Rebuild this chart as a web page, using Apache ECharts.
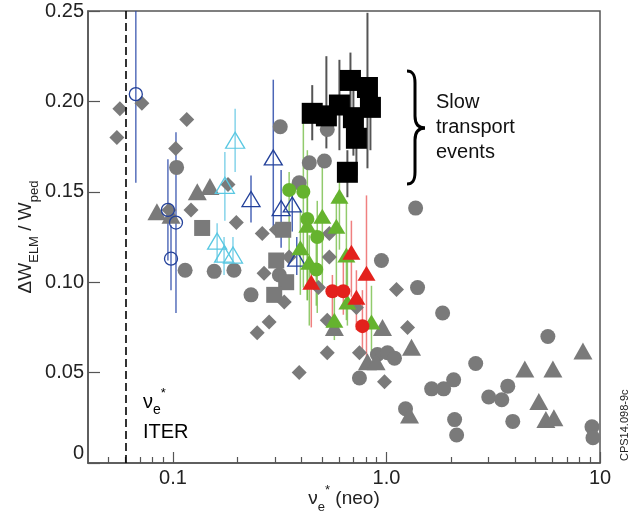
<!DOCTYPE html>
<html><head><meta charset="utf-8">
<script src="https://cdn.jsdelivr.net/npm/echarts@6/dist/echarts.min.js"></script>
<style>html,body{margin:0;padding:0;background:#fff}#c{width:641px;height:518px}</style>
</head><body><div id="c"></div>
<script>
// ---- axis ticks ----
const X_MAJOR = [0.1, 1, 10];
const X_MAJOR_LABELS = ['0.1', '1.0', '10'];
const X_MINOR = [0.05,0.06,0.07,0.08,0.09,0.2,0.3,0.4,0.5,0.6,0.7,0.8,0.9,2,3,4,5,6,7,8,9];
const Y_TICKS = [0, 0.05, 0.10, 0.15, 0.20, 0.25];
const Y_TICK_LABELS = ['0', '0.05', '0.10', '0.15', '0.20', '0.25'];
const NU_ITER = 0.06;

// ---- data: [nu*, dW/W] ----
const grayDiamonds = [[0.0564,0.196],[0.0546,0.180],[0.0715,0.199],[0.116,0.190],[0.103,0.174],[0.1215,0.140],[0.0958,0.140],[0.181,0.154],[0.198,0.133],[0.262,0.127],[0.305,0.129],[0.267,0.105],[0.350,0.114],[0.332,0.089],[0.282,0.078],[0.248,0.072],[0.390,0.050],[0.540,0.114],[0.540,0.127],[0.528,0.061],[0.747,0.061],[0.979,0.045],[1.114,0.096],[1.255,0.075],[0.480,0.097],[0.723,0.086],[0.528,0.079]];
const grayCircles = [[0.318,0.186],[0.104,0.1635],[0.114,0.1066],[0.156,0.106],[0.193,0.1066],[0.232,0.093],[0.315,0.104],[0.528,0.1845],[0.435,0.166],[0.512,0.167],[0.390,0.155],[1.369,0.141],[0.947,0.112],[1.398,0.097],[1.832,0.083],[5.70,0.070],[0.747,0.047],[0.907,0.060],[1.011,0.061],[1.09,0.058],[2.617,0.055],[1.627,0.041],[1.852,0.041],[2.063,0.046],[3.012,0.0365],[3.467,0.035],[3.699,0.0425],[1.228,0.030],[2.085,0.024],[2.131,0.0155],[3.904,0.023],[9.17,0.020],[9.27,0.014]];
const grayTriangles = [[0.0841,0.139],[0.0979,0.137],[0.130,0.150],[0.149,0.153],[0.570,0.075],[0.958,0.075],[1.31,0.064],[0.8145,0.056],[0.894,0.056],[1.282,0.0265],[4.445,0.052],[6.017,0.052],[8.32,0.062],[5.171,0.034],[5.578,0.024],[6.082,0.025]];
const graySquares = [[0.137,0.130],[0.3285,0.129],[0.3045,0.112],[0.339,0.100],[0.298,0.093]];

// ---- data with error bars: [nu*, dW/W, low, high] ----
const blueCircles = [[0.067,0.204,0.155,0.25],[0.0947,0.140,0.112,0.168],[0.1033,0.133,0.083,0.183],[0.0979,0.113,0.0956,0.1315]];
const blueTriangles = [[0.295,0.169,0.128,0.212],[0.232,0.146,0.133,0.159],[0.321,0.141,0.119,0.162],[0.362,0.143,0.128,0.150],[0.380,0.113,0.104,0.125]];
const cyanTriangles = [[0.1955,0.1785,0.161,0.196],[0.175,0.1536,0.134,0.172],[0.161,0.1227,0.111,0.1326],[0.1735,0.1155,0.104,0.125],[0.191,0.115,0.103,0.125]];
const greenCircles = [[0.350,0.151,0.115,0.161],[0.408,0.150,0.097,0.188],[0.426,0.135,0.090,0.173],[0.474,0.125,0.083,0.145],[0.469,0.107,0.087,0.129]];
const greenTriangles = [[0.602,0.1475,0.118,0.156],[0.5006,0.1365,0.098,0.171],[0.426,0.1315,0.090,0.151],[0.5825,0.131,0.096,0.148],[0.395,0.119,0.093,0.140],[0.435,0.111,0.076,0.126],[0.649,0.115,0.079,0.145],[0.656,0.089,0.076,0.112],[0.570,0.079,0.068,0.098],[0.8505,0.078,0.059,0.098]];
const redCircles = [[0.558,0.095,0.079,0.104],[0.628,0.095,0.082,0.112],[0.7715,0.0757,0.062,0.0956]];
const redTriangles = [[0.4445,0.100,0.075,0.107],[0.685,0.1166,0.092,0.134],[0.806,0.105,0.058,0.148],[0.723,0.0917,0.0735,0.1066]];
const blackSquares = [[0.449,0.1934,0.1785,0.209],[0.523,0.192,0.174,0.225],[0.602,0.198,0.173,0.223],[0.678,0.2116,0.187,0.227],[0.8145,0.2077,0.163,0.249],[0.841,0.1967,0.173,0.206],[0.723,0.1796,0.159,0.195],[0.656,0.1608,0.147,0.173],[0.70,0.191,0.170,0.21]];

const FONT = "'Liberation Sans', Arial, Helvetica, sans-serif";
const GRAY = '#7a7a7a', BLUE = '#23419a', CYAN = '#5ac8e2', GREEN = '#65b32e', RED = '#e3211c';
const AX = '#555';

function pickLabel(v, vals, labels) {
  let best = 0, bd = Infinity;
  vals.forEach((t, i) => { const d = Math.abs(Math.log(t) - Math.log(v)); if (d < bd) { bd = d; best = i; } });
  return labels[best];
}
function yLabel(v) {
  let best = 0, bd = Infinity;
  Y_TICKS.forEach((t, i) => { const d = Math.abs(t - v); if (d < bd) { bd = d; best = i; } });
  return Y_TICK_LABELS[best];
}
function marks(data, symbol, size, itemStyle) {
  return { type: 'scatter', data: data.map(d => [d[0], d[1]]), symbol, symbolSize: size,
    itemStyle: Object.assign({ opacity: 1 }, itemStyle), silent: true, animation: false };
}
function bars(data, color, width) {
  return { type: 'custom', data: data.map(d => [d[0], d[2], d[3]]), encode: { x: 0, y: [1, 2] },
    silent: true, animation: false,
    renderItem(params, api) {
      const a = api.coord([api.value(0), api.value(1)]);
      const b = api.coord([api.value(0), api.value(2)]);
      return { type: 'line', shape: { x1: a[0], y1: a[1], x2: b[0], y2: b[1] },
        style: { stroke: color, lineWidth: width } };
    } };
}
const hollow = c => ({ color: 'rgba(0,0,0,0)', borderColor: c, borderWidth: 1.3 });

const subRich = {
  m: { fontSize: 19, lineHeight: 30, fontFamily: FONT, color: '#222' },
  s: { fontSize: 13, lineHeight: 14, verticalAlign: 'bottom', fontFamily: FONT, color: '#222' },
  p: { fontSize: 13, lineHeight: 14, verticalAlign: 'top', fontFamily: FONT, color: '#222' }
};

const braceStyle = { stroke: '#000', lineWidth: 3, fill: null };
const bz = (x1, y1, c1x, c1y, c2x, c2y, x2, y2) => ({ type: 'bezierCurve',
  shape: { x1, y1, cpx1: c1x, cpy1: c1y, cpx2: c2x, cpy2: c2y, x2, y2 }, style: braceStyle });
const ln = (x1, y1, x2, y2) => ({ type: 'line', shape: { x1, y1, x2, y2 }, style: braceStyle });

const chart = echarts.init(document.getElementById('c'), null, { renderer: 'canvas' });
chart.setOption({
  animation: false,
  backgroundColor: '#fff',
  grid: { left: 88, right: 41, top: 11, bottom: 55, show: true, borderColor: AX, borderWidth: 1.5,
    containLabel: false, outerBoundsMode: 'none' },
  xAxis: [{
    type: 'log', logBase: 10, min: 0.04, max: 10,
    axisLine: { show: true, onZero: false, lineStyle: { color: AX, width: 1.5 } },
    axisTick: { show: true, inside: true, length: 11, customValues: X_MAJOR, lineStyle: { color: AX, width: 1.2 } },
    axisLabel: { show: true, customValues: X_MAJOR, margin: 5, fontSize: 20, fontFamily: FONT, color: '#222',
      formatter: v => pickLabel(v, X_MAJOR, X_MAJOR_LABELS) },
    splitLine: { show: false },
    name: '{m|ν}{s|e}{p|*}{m| (neo)}', nameLocation: 'middle', nameGap: 21, nameMoveOverlap: false,
    nameTextStyle: { rich: subRich }
  }, {
    type: 'log', logBase: 10, min: 0.04, max: 10, position: 'bottom',
    axisLine: { show: false },
    axisTick: { show: true, inside: true, length: 6, customValues: X_MINOR, lineStyle: { color: AX, width: 1.2 } },
    axisLabel: { show: false }, splitLine: { show: false }
  }],
  yAxis: {
    type: 'value', min: 0, max: 0.25, interval: 0.05,
    axisLine: { show: true, onZero: false, lineStyle: { color: AX, width: 1.5 } },
    axisTick: { show: true, inside: true, length: 12, lineStyle: { color: AX, width: 1.2 } },
    axisLabel: { show: true, margin: 4, fontSize: 20, fontFamily: FONT, color: '#222', formatter: yLabel,
      verticalAlignMinLabel: 'bottom' },
    splitLine: { show: false },
    name: '{m|ΔW}{s|ELM}{m| / W}{s|ped}', nameLocation: 'middle', nameGap: 47, nameMoveOverlap: false,
    nameTextStyle: { rich: subRich }
  },
  series: [
    Object.assign(marks(grayDiamonds, 'diamond', 15, { color: GRAY }), {
      markLine: { silent: true, symbol: ['none', 'none'], label: { show: false }, animation: false,
        lineStyle: { color: '#000', type: [8, 4], width: 1.6 }, data: [{ xAxis: NU_ITER }] }
    }),
    marks(grayCircles, 'circle', 15, { color: GRAY }),
    marks(grayTriangles, 'triangle', [19, 17], { color: GRAY }),
    marks(graySquares, 'rect', 16, { color: GRAY }),
    bars(blueCircles, 'rgba(45,75,170,0.8)', 1.5),
    bars(blueTriangles, 'rgba(45,75,170,0.85)', 1.5),
    bars(cyanTriangles, '#86d4ea', 1.5),
    bars(greenCircles, 'rgba(110,185,60,0.75)', 1.5),
    bars(greenTriangles, 'rgba(110,185,60,0.75)', 1.5),
    bars(redCircles, 'rgba(235,85,85,0.75)', 1.5),
    bars(redTriangles, 'rgba(235,85,85,0.75)', 1.5),
    marks(blueCircles, 'circle', 13, hollow(BLUE)),
    marks(blueTriangles, 'triangle', [18, 15], hollow(BLUE)),
    marks(cyanTriangles, 'triangle', [19, 16], hollow(CYAN)),
    marks(greenCircles, 'circle', 14, { color: GREEN }),
    marks(greenTriangles, 'triangle', [18, 15], { color: GREEN }),
    marks(redCircles, 'circle', 14, { color: RED }),
    marks(redTriangles, 'triangle', [18, 15], { color: RED }),
    bars(blackSquares, '#555', 2),
    marks(blackSquares, 'rect', 21, { color: '#000' })
  ],
  graphic: [
    bz(407, 71, 413, 71, 415, 75, 415, 83),
    ln(415, 83, 415, 116),
    bz(415, 116, 415, 124, 418, 128, 425, 128),
    bz(425, 128, 418, 128, 415, 132, 415, 140),
    ln(415, 140, 415, 172),
    bz(415, 172, 415, 180, 413, 184, 407, 184),
    { type: 'text', x: 436, y: 90, style: { text: 'Slow\ntransport\nevents', font: "20px " + FONT, lineHeight: 25, fill: '#111' } },
    { type: 'text', x: 143, y: 387, style: { text: '{m|ν}{s|e}{p|*}\n{m|ITER}', rich: {
        m: { fontSize: 20, lineHeight: 30, fontFamily: FONT, color: '#111' },
        s: { fontSize: 14, lineHeight: 14, verticalAlign: 'bottom', fontFamily: FONT, color: '#111' },
        p: { fontSize: 13, lineHeight: 14, verticalAlign: 'top', fontFamily: FONT, color: '#111' } } } },
    { type: 'text', x: 625, y: 461, rotation: Math.PI / 2,
      style: { text: 'CPS14.098-9c', font: "11px " + FONT, fill: '#222', align: 'left', verticalAlign: 'middle' } }
  ]
});
</script>
</body></html>
